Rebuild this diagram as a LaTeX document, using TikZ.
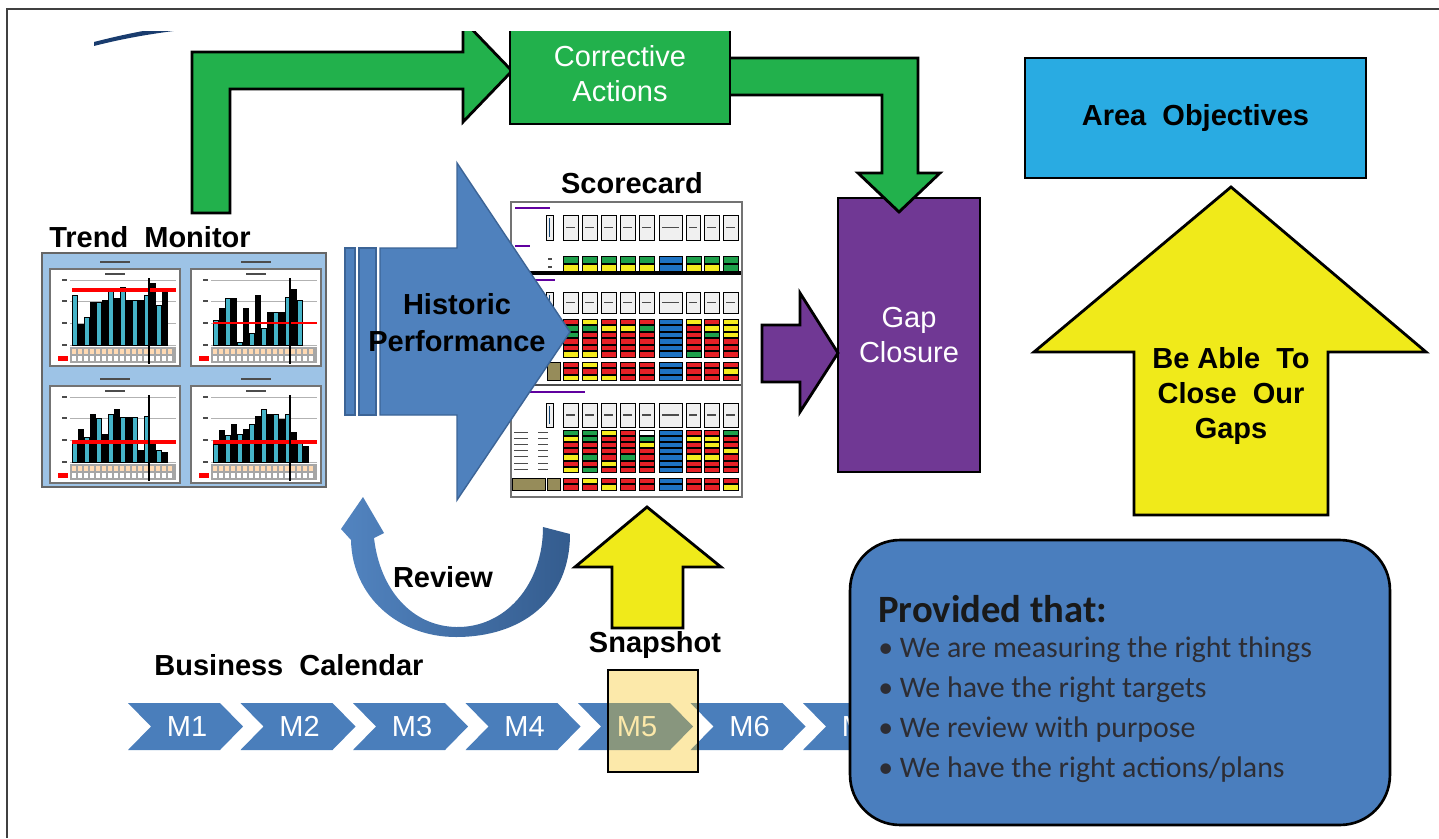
\documentclass[tikz,border=0pt]{standalone}
\usepackage{fontspec}
\setmainfont{Liberation Sans}
\newfontfamily\calfont{Carlito}
\usetikzlibrary{positioning}

\definecolor{actgreen}{RGB}{34,177,76}
\definecolor{gappurple}{RGB}{112,56,148}
\definecolor{objblue}{RGB}{41,171,226}
\definecolor{arrowyellow}{RGB}{240,234,26}
\definecolor{histblue}{RGB}{79,129,189}
\definecolor{histedge}{RGB}{60,100,150}
\definecolor{calblue}{RGB}{74,126,187}
\definecolor{provblue}{RGB}{74,126,190}
\definecolor{navy}{RGB}{25,60,110}
\definecolor{revdark}{RGB}{52,92,142}
\definecolor{revlight}{RGB}{82,132,192}
\definecolor{tmblue}{RGB}{157,195,230}
\definecolor{barteal}{RGB}{70,180,200}
\definecolor{snapgold}{RGB}{247,194,19}
\definecolor{scr}{RGB}{230,32,38}
\definecolor{scy}{RGB}{245,236,30}
\definecolor{scg}{RGB}{30,160,75}
\definecolor{scb}{RGB}{30,115,195}
\definecolor{scw}{RGB}{255,255,255}
\definecolor{sck}{RGB}{150,140,90}
\definecolor{bultext}{RGB}{45,45,52}

\tikzset{box/.style={draw,line width=1.6pt,inner sep=0pt,align=center},
  blockarrow/.style={draw,line width=1.6pt,line join=miter},
  lbl/.style={font=\fontsize{16.5}{20}\selectfont\bfseries,align=center},
  wlbl/.style={font=\fontsize{16.5}{20}\selectfont,text=white,align=center},
  hdr/.style={draw=black,fill=black!6,line width=0.5pt},
  cell/.style={draw=black,line width=0.35pt},
  scrib/.style={line width=1pt,black!70},
  bul/.style={font=\calfont\fontsize{17}{20}\selectfont,text=bultext,anchor=base west,inner sep=0pt}}

\begin{document}
\begin{tikzpicture}[x=0.02cm,y=-0.02cm]
    \useasboundingbox (0,0) rectangle (1439,838);
    \draw[black!75,line width=1.1pt] (1439,9) -- (7,9) -- (7,838);

    \filldraw[fill=tmblue,draw=black!60,line width=1.2pt] (42,253) rectangle (326,487);
    \foreach \px/\py/\rl/\rw/\hs in {50/269/55/2.2/{50,21,28,43,43,45,55,47,58,45,45,45,50,62,40,55},
        191/269/22/0.8/{25,37,47,47,3,37,12,50,17,33,33,33,48,56,45},
        50/386/20/2.2/{20,33,25,48,44,28,48,53,45,45,45,12,46,20,12,10},
        191/386/20/2.2/{18,32,27,38,28,33,38,46,53,48,48,43,48,30,20,16}} {
        \filldraw[fill=white,draw=black!55,line width=0.8pt] (\px,\py) rectangle ({\px+130},{\py+97});
        \draw[scrib] ({\px+50},{\py-7}) -- ({\px+80},{\py-7});
        \draw[scrib,line width=0.6pt] ({\px+55},{\py+5}) -- ({\px+75},{\py+5});
        \foreach \g in {11,32,54,76} {
            \draw[gray!60,line width=0.3pt] ({\px+20},{\py+\g}) -- ({\px+126},{\py+\g});
            \draw[scrib,line width=0.6pt] ({\px+12},{\py+\g}) -- ({\px+17},{\py+\g});
        }
        \foreach \h [count=\i] in \hs {
            \ifodd\i\def\bc{barteal}\else\def\bc{black}\fi
            \filldraw[fill=\bc,draw=black,line width=0.3pt] ({\px+22+(\i-1)*6},{\py+76}) rectangle ++(5,-\h);
        }
        \draw[red,line width=\rw pt] ({\px+22},{\py+76-\rl}) -- ({\px+126},{\py+76-\rl});
        \fill[black!35] ({\px+20},{\py+78}) rectangle ({\px+126},{\py+94});
        \foreach \k in {0,...,16} {
            \fill[orange!30] ({\px+22+\k*6},{\py+80}) rectangle ++(4,5);
            \fill[white] ({\px+22+\k*6},{\py+87}) rectangle ++(4,5);
        }
        \fill[red] ({\px+8},{\py+87}) rectangle ++(10,5);
        \draw[line width=1pt] ({\px+99},{\py+9}) -- ({\px+99},{\py+95});
    }
    \node[lbl] (trend) at (150,237) {Trend\ \ Monitor};

    \filldraw[fill=white,draw=black!55,line width=1.2pt] (511,202) rectangle (742,497);
    \begin{scope}
        \clip (511,202) rectangle (742,497);
        \foreach \ty/\tl in {208/35,246/15,280/40,392/70}
            \draw[blue!50!purple,line width=0.8pt] (515,\ty) -- ++(\tl,0);
        \foreach \hy/\hh in {215/25,292/21,403/24} {
            \draw[hdr] (546,\hy) rectangle ++(7,\hh);
            \draw[scb!60!black,line width=0.8pt] (549.5,{\hy+3}) -- ++(0,{\hh-6});
            \foreach \cx/\cw in {563/15,582/15,601/15,620/15,639/15,659/23,686/14,704/15,723/15} {
                \draw[hdr] (\cx,\hy) rectangle ++(\cw,\hh);
                \draw[scrib,line width=0.6pt] ({\cx+3},{\hy+\hh/2}) -- ++({\cw-6},0);
            }
        }
        \foreach \ry/\rh/\rowc in {256/7/{g,g,g,g,g,b,g,g,g},264/7/{y,y,y,y,y,b,y,y,g},
            319/5.5/{r,y,r,r,r,b,y,r,y},325.5/5.5/{g,g,y,y,g,b,r,y,y},332/5.5/{g,r,r,r,r,b,r,g,y},
            338.5/5.5/{r,r,r,r,r,b,r,r,r},345/5.5/{r,r,r,r,r,b,r,r,r},351.5/5.5/{y,y,r,r,r,b,g,r,r},
            362/5.5/{r,y,r,r,r,b,r,r,r},368.5/5.5/{r,r,r,r,r,b,r,r,y},375/5.5/{y,y,y,r,r,b,r,r,r},
            430/5.2/{g,g,y,r,w,b,r,r,g},436.2/5.2/{y,g,r,r,g,b,y,y,r},442.4/5.2/{r,r,r,r,y,b,r,y,r},
            448.6/5.2/{r,r,r,r,r,b,r,r,y},454.8/5.2/{y,g,r,g,r,b,y,y,r},461/5.2/{r,r,y,r,r,b,r,r,r},
            467.2/5.2/{y,g,r,r,r,b,r,r,r},478/5.5/{r,y,r,r,r,b,r,r,r},484.5/5.5/{r,r,y,r,r,b,r,r,y}} {
            \foreach \cc [count=\k] in \rowc {
                \pgfmathsetmacro\cx{{563,582,601,620,639,659,686,704,723}[\k-1]}
                \pgfmathsetmacro\cw{\k==6 ? 23 : 15}
                \filldraw[cell,fill=sc\cc] (\cx,\ry) rectangle ++(\cw,\rh);
            }
        }
        \foreach \ry in {432,438,444,450,456,463,469}
            \draw[scrib,line width=0.5pt] (514,\ry) -- ++(14,0) (538,\ry) -- ++(10,0);
        \draw[scrib,line width=0.6pt] (548,259) -- ++(4,0) (548,267) -- ++(4,0);
        \filldraw[cell,fill=sck] (547,362) rectangle (560,380);
        \filldraw[cell,fill=sck] (512,478) rectangle (545,490);
        \filldraw[cell,fill=sck] (547,478) rectangle (560,490);
        \draw[line width=2pt] (511,273) -- (742,273);
        \draw[black!70,line width=1.2pt] (511,385) -- (742,385);
    \end{scope}
    \draw[black!55,line width=1.2pt] (511,202) rectangle (742,497);
    \node[lbl] (score) at (632,183) {Scorecard};

    \filldraw[fill=histblue,draw=histedge,line width=0.8pt] (345,248) rectangle (355,415);
    \filldraw[fill=histblue,draw=histedge,line width=0.8pt] (359,248) rectangle (376,415);
    \filldraw[fill=histblue,draw=histedge,line width=0.8pt] (380,248) -- (457,248) -- (457,163)
        -- (570,332) -- (457,500) -- (457,415) -- (380,415) -- cycle;
    \node[lbl,font=\fontsize{16.5}{21}\selectfont\bfseries] (hist) at (457,323) {Historic\\Performance};

    \node[box,fill=gappurple,minimum width=2.84cm,minimum height=5.48cm,wlbl] (gap) at (909,335) {Gap\\Closure};
    \filldraw[blockarrow,fill=actgreen] (726,58) -- (918,58) -- (918,173) -- (940,173) -- (899,212)
        -- (858,173) -- (882,173) -- (882,95) -- (726,95) -- cycle;
    \begin{scope}
        \clip (0,32) rectangle (1439,838);
        \fill[navy] (94,46) .. controls (125,38) and (155,33) .. (190,29) -- (190,24)
            .. controls (155,28) and (125,34) .. (94,42) -- cycle;
        \filldraw[blockarrow,fill=actgreen] (192,213) -- (192,52) -- (463,52) -- (463,20) -- (512,71)
            -- (463,122) -- (463,89) -- (230,89) -- (230,213) -- cycle;
        \node[box,fill=actgreen,minimum width=4.4cm,minimum height=2cm,wlbl] (act) at (620,74) {Corrective\\Actions};
    \end{scope}
    \filldraw[blockarrow,fill=gappurple] (762,325) -- (800,325) -- (800,293) -- (838,353) -- (800,412)
        -- (800,382) -- (762,382) -- cycle;

    \node[box,fill=objblue,minimum width=6.82cm,minimum height=2.4cm,lbl] (obj) at (1195.5,118) {Area\ \ Objectives};
    \filldraw[blockarrow,fill=arrowyellow] (1134,515) -- (1134,352) -- (1034,352) -- (1231,187)
        -- (1426,352) -- (1328,352) -- (1328,515) -- cycle;
    \node[lbl] (able) at (1231,396) {Be Able\ \ To\\Close\ \ Our\\Gaps};

    \shade[left color=revlight,right color=revdark] (570,534) .. controls (570,600) and (522,637) .. (456,637)
        .. controls (398,637) and (352,596) .. (351,540) -- (341,529) -- (363,497) -- (384,533) -- (374,538)
        .. controls (380,590) and (412,626) .. (456,627) .. controls (505,628) and (543,585) .. (543,527) -- cycle;
    \node[lbl] (rev) at (443,577) {Review};

    \filldraw[blockarrow,fill=arrowyellow] (612,628) -- (612,567) -- (575,567) -- (647,507) -- (721,567)
        -- (683,567) -- (683,628) -- cycle;
    \node[lbl] (snap) at (655,645) {Snapshot};

    \foreach \i in {1,...,7} {
        \pgfmathsetmacro\cx{128+(\i-1)*112.5}
        \fill[calblue] (\cx,703) -- ++(92,0) -- ++(23,23.5) -- ++(-23,23.5) -- ++(-92,0) -- ++(23,-23.5) -- cycle;
        \node[wlbl] (m\i) at ({\cx+59},726.5) {M\i};
    }
    \filldraw[fill=snapgold,fill opacity=0.36,draw=black,line width=1.5pt] (608,670) rectangle (698,772);
    \node[lbl] (cal) at (289,665) {Business\ \ Calendar};

    \node[draw,line width=1.5pt,fill=provblue,rounded corners=1cm,minimum width=10.8cm,minimum height=5.7cm] (prov) at (1120,682.5) {};
    \node[anchor=base west,inner sep=0pt,font=\calfont\bfseries\fontsize{22}{26}\selectfont,text=black!90] (provhead) at (878,622) {Provided that:};
    \foreach \ptxt [count=\k] in {We are measuring the right things,We have the right targets,We review with purpose,We have the right actions/plans}
        \node[bul] (pt\k) at (878,{657+40*(\k-1)}) {\textbullet\ \ptxt};
\end{tikzpicture}
\end{document}
